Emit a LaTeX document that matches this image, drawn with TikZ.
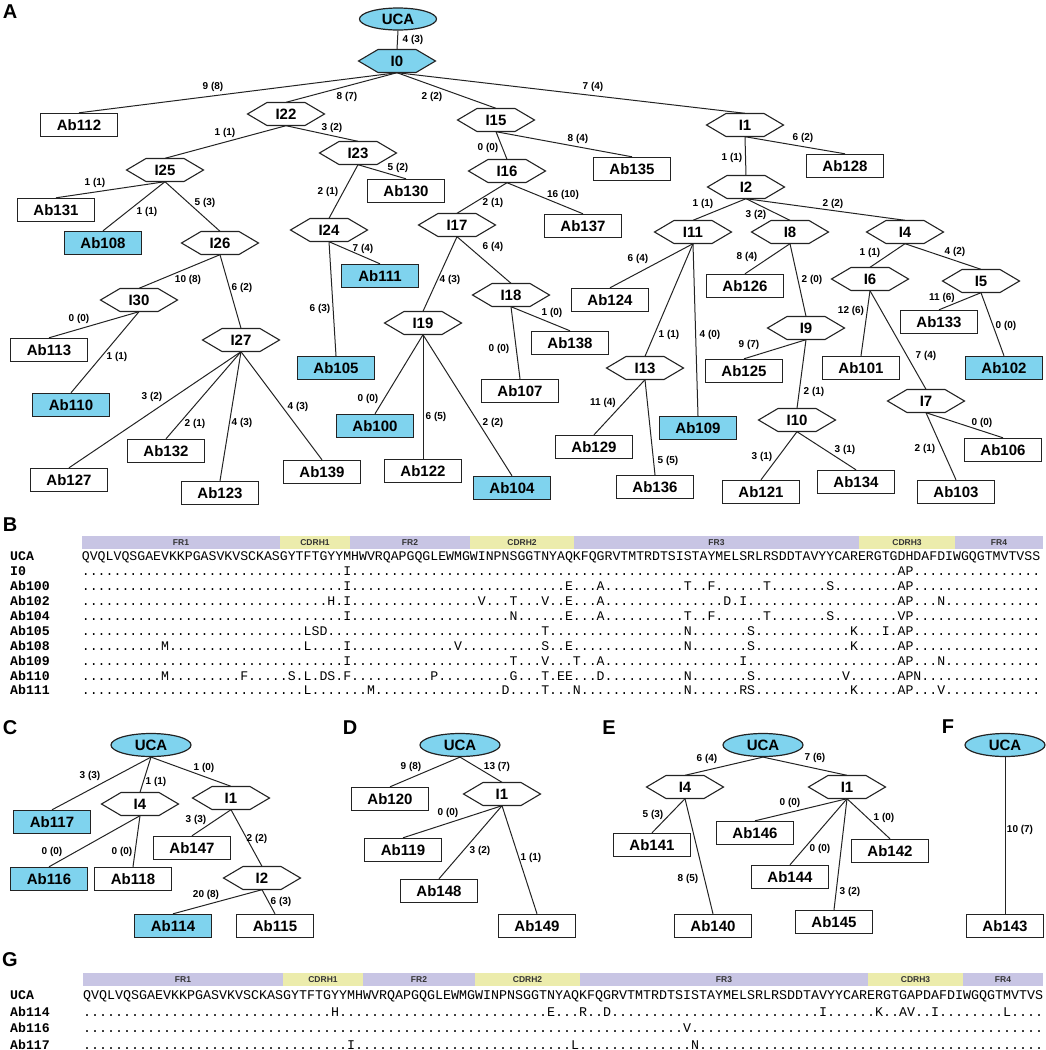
\documentclass[tikz,border=0pt]{standalone}
\usepackage{fontspec}
\setmainfont{Liberation Sans}
\newfontfamily\monof{Liberation Mono}
\usetikzlibrary{shapes.geometric}
\definecolor{nodeblue}{RGB}{127,211,238}
\definecolor{frc}{RGB}{200,197,228}
\definecolor{cdrc}{RGB}{236,236,172}
\definecolor{linec}{RGB}{35,35,35}
\newcommand\nodefnt{\fontsize{15}{15}\selectfont\bfseries}
\newcommand\edgefnt{\fontsize{10}{10}\selectfont\bfseries}
\newcommand\panelfnt{\fontsize{20}{20}\selectfont\bfseries}
\newcommand\barfnt{\fontsize{8.5}{8.5}\selectfont\bfseries}
\newcommand\seqBfnt{\monof\fontsize{13.2}{13.2}\selectfont}
\newcommand\seqGfnt{\monof\fontsize{13.333}{13.333}\selectfont}
\newcommand\rowfnt{\monof\fontsize{13.2}{13.2}\selectfont\bfseries}
% build an alignment row: #1 macro, #2 length, #3 list pos/letter
\newcommand\mkrow[3]{%
  \gdef#1{}%
  \foreach \mpos/\mlet in {#3}{\expandafter\xdef\csname mut\mpos\endcsname{\mlet}}%
  \foreach \mi in {1,...,#2}{%
    \ifcsname mut\mi\endcsname
      \xdef#1{#1\csname mut\mi\endcsname}%
    \else
      \xdef#1{#1.}%
    \fi}%
  \foreach \mpos/\mlet in {#3}{\global\expandafter\let\csname mut\mpos\endcsname\undefined}%
}
\mkrow\rIz{121}{34/I,104/A,105/P}
\mkrow\rAa{121}{34/I,62/E,66/A,77/T,80/F,87/T,95/S,104/A,105/P}
\mkrow\rAb{121}{32/H,34/I,51/V,55/T,59/V,62/E,66/A,82/D,84/I,104/A,105/P,109/N}
\mkrow\rAc{121}{34/I,55/N,62/E,66/A,77/T,80/F,87/T,95/S,104/V,105/P}
\mkrow\rAd{121}{29/L,30/S,31/D,59/T,77/N,85/S,98/K,102/I,104/A,105/P}
\mkrow\rAe{121}{11/M,29/L,34/I,48/V,59/S,62/E,77/N,85/S,98/K,104/A,105/P}
\mkrow\rAf{121}{34/I,55/T,59/V,63/T,66/A,84/I,104/A,105/P,109/N}
\mkrow\rAg{121}{11/M,21/F,27/S,29/L,31/D,32/S,34/F,45/P,55/G,59/T,61/E,62/E,66/D,77/N,85/S,97/V,104/A,105/P,106/N}
\mkrow\rAh{121}{29/L,37/M,54/D,59/T,63/N,77/N,84/R,85/S,98/K,104/A,105/P,109/V}
\mkrow\gAa{120}{32/H,59/E,63/R,66/D,93/I,100/K,103/A,104/V,107/I,116/L}
\mkrow\gAb{120}{76/V}
\mkrow\gAc{120}{34/I,62/L,77/N}
\tikzset{
 abox/.style={draw=linec, line width=1.4pt, fill=white, minimum width=77pt, minimum height=23pt, inner sep=0pt, font=\nodefnt},
 bbox/.style={abox, fill=nodeblue},
 ucan/.style={ellipse, draw=linec, line width=1.2pt, fill=nodeblue, minimum width=77pt, minimum height=22pt, inner sep=0pt, font=\nodefnt},
 ucanb/.style={ucan, minimum width=80pt, minimum height=23pt},
 hexlbl/.style={minimum width=77pt, minimum height=23pt, inner sep=0pt, font=\nodefnt},
 hexline/.style={draw=linec, line width=1.1pt},
 edgeline/.style={draw=linec, line width=1pt},
 elab/.style={font=\edgefnt, inner sep=0pt},
 panel/.style={font=\panelfnt, inner sep=0pt},
 barn/.style={minimum height=13pt, inner sep=0pt, font=\barfnt, text=black!80},
 seqB/.style={font=\seqBfnt, inner sep=0pt, anchor=base west},
 seqG/.style={font=\seqGfnt, inner sep=0pt, anchor=base west},
 rowlab/.style={font=\rowfnt, inner sep=0pt, anchor=base west},
}
\newcommand\hexnode[5][white]{%
  \filldraw[hexline, fill=#1] ({#3-38.5},#4) -- ({#3-19},{#4-11.5}) -- ({#3+19},{#4-11.5}) -- ({#3+38.5},#4) -- ({#3+19},{#4+11.5}) -- ({#3-19},{#4+11.5}) -- cycle;
  \node[hexlbl] (#2) at (#3,#4) {#5};}
\newcommand\edge[5]{\draw[edgeline] (#1.south) -- (#2.north); \node[elab] (l#1#2) at (#3,#4) {#5};}
\newcommand\segbar[6]{\node[barn, fill=#5, minimum width=#3pt] (#6) at (#1,#2) {#6};}
\begin{document}
\begin{tikzpicture}[x=1pt,y=-1pt]
\useasboundingbox (0,0) rectangle (1045,1050);
% panel letters
\node[panel] (pA) at (10,12) {A};
\node[panel] (pB) at (10,525) {B};
\node[panel] (pC) at (10,728) {C};
\node[panel] (pD) at (350,728) {D};
\node[panel] (pE) at (609,728) {E};
\node[panel] (pF) at (948,727) {F};
\node[panel] (pG) at (10,960) {G};
% ---------- panel A ----------
\node[ucan] (aUCA) at (398,19) {UCA};
\hexnode[nodeblue]{aI0}{397}{61}{I0}
\node[abox] (Ab112) at (79,125) {Ab112};
\hexnode{aI22}{286}{114}{I22}
\hexnode{aI15}{496}{120}{I15}
\hexnode{aI1}{745}{125}{I1}
\hexnode{aI25}{165}{170}{I25}
\hexnode{aI23}{358}{153}{I23}
\hexnode{aI16}{507}{171}{I16}
\node[abox] (Ab135) at (632,169) {Ab135};
\node[abox] (Ab128) at (845,166) {Ab128};
\hexnode{aI2}{746}{187}{I2}
\node[abox] (Ab130) at (406,191) {Ab130};
\node[abox] (Ab131) at (56,210) {Ab131};
\node[bbox] (Ab108) at (103,243) {Ab108};
\hexnode{aI26}{220}{243}{I26}
\hexnode{aI24}{329}{230}{I24}
\hexnode{aI17}{457}{225}{I17}
\node[abox] (Ab137) at (583,226) {Ab137};
\hexnode{aI11}{693}{232}{I11}
\hexnode{aI8}{790}{232}{I8}
\hexnode{aI4}{905}{232}{I4}
\node[bbox] (Ab111) at (380,276) {Ab111};
\hexnode{aI30}{139}{300}{I30}
\hexnode{aI18}{511}{295}{I18}
\hexnode{aI19}{423}{323}{I19}
\hexnode{aI27}{241}{340}{I27}
\node[abox] (Ab124) at (610,300) {Ab124};
\node[abox] (Ab126) at (745,286) {Ab126};
\hexnode{aI6}{870}{279}{I6}
\hexnode{aI5}{981}{281}{I5}
\node[abox] (Ab113) at (49,350) {Ab113};
\node[bbox] (Ab105) at (336,368) {Ab105};
\node[abox] (Ab138) at (570,343) {Ab138};
\node[abox] (Ab107) at (520,391) {Ab107};
\hexnode{aI9}{806}{328}{I9}
\node[abox] (Ab133) at (939,322) {Ab133};
\hexnode{aI13}{645}{368}{I13}
\node[abox] (Ab125) at (744,371) {Ab125};
\node[abox] (Ab101) at (861,368) {Ab101};
\node[bbox] (Ab102) at (1004,368) {Ab102};
\node[bbox] (Ab110) at (71,405) {Ab110};
\node[bbox] (Ab100) at (375,426) {Ab100};
\hexnode{aI7}{926}{401}{I7}
\node[bbox] (Ab109) at (698,428) {Ab109};
\hexnode{aI10}{797}{420}{I10}
\node[abox] (Ab106) at (1003,450) {Ab106};
\node[abox] (Ab129) at (594,447) {Ab129};
\node[abox] (Ab132) at (166,451) {Ab132};
\node[abox] (Ab139) at (322,472) {Ab139};
\node[abox] (Ab122) at (423,471) {Ab122};
\node[abox] (Ab127) at (69,480) {Ab127};
\node[abox] (Ab123) at (220,493) {Ab123};
\node[bbox] (Ab104) at (512,488) {Ab104};
\node[abox] (Ab134) at (856,482) {Ab134};
\node[abox] (Ab136) at (655,487) {Ab136};
\node[abox] (Ab121) at (761,492) {Ab121};
\node[abox] (Ab103) at (956,492) {Ab103};
\edge{aUCA}{aI0}{413}{40}{4 (3)}
\edge{aI0}{Ab112}{213}{87}{9 (8)}
\edge{aI0}{aI22}{347}{97}{8 (7)}
\edge{aI0}{aI15}{432}{97}{2 (2)}
\edge{aI0}{aI1}{593}{87}{7 (4)}
\edge{aI22}{aI25}{225}{133}{1 (1)}
\edge{aI22}{aI23}{332}{128}{3 (2)}
\edge{aI15}{aI16}{488}{148}{0 (0)}
\edge{aI15}{Ab135}{578}{139}{8 (4)}
\edge{aI1}{Ab128}{803}{138}{6 (2)}
\edge{aI1}{aI2}{732}{158}{1 (1)}
\edge{aI23}{Ab130}{398}{168}{5 (2)}
\edge{aI25}{Ab131}{95}{183}{1 (1)}
\edge{aI23}{aI24}{328}{192}{2 (1)}
\edge{aI16}{Ab137}{563}{195}{16 (10)}
\edge{aI16}{aI17}{493}{203}{2 (1)}
\edge{aI25}{aI26}{205}{203}{5 (3)}
\edge{aI2}{aI11}{703}{204}{1 (1)}
\edge{aI2}{aI4}{833}{204}{2 (2)}
\edge{aI25}{Ab108}{147}{212}{1 (1)}
\edge{aI2}{aI8}{756}{215}{3 (2)}
\edge{aI17}{aI18}{493}{247}{6 (4)}
\edge{aI24}{Ab111}{363}{249}{7 (4)}
\edge{aI4}{aI6}{870}{253}{1 (1)}
\edge{aI4}{aI5}{955}{252}{4 (2)}
\edge{aI8}{Ab126}{747}{257}{8 (4)}
\edge{aI11}{Ab124}{638}{259}{6 (4)}
\edge{aI26}{aI30}{188}{280}{10 (8)}
\edge{aI17}{aI19}{450}{280}{4 (3)}
\edge{aI8}{aI9}{812}{280}{2 (0)}
\edge{aI26}{aI27}{242}{288}{6 (2)}
\edge{aI5}{Ab133}{942}{298}{11 (6)}
\edge{aI24}{Ab105}{320}{309}{6 (3)}
\edge{aI6}{Ab101}{851}{311}{12 (6)}
\edge{aI18}{Ab138}{552}{313}{1 (0)}
\edge{aI30}{Ab113}{79}{319}{0 (0)}
\edge{aI5}{Ab102}{1006}{326}{0 (0)}
\edge{aI11}{aI13}{669}{335}{1 (1)}
\edge{aI11}{Ab109}{710}{335}{4 (0)}
\edge{aI9}{Ab125}{749}{345}{9 (7)}
\edge{aI18}{Ab107}{499}{349}{0 (0)}
\edge{aI6}{aI7}{926}{356}{7 (4)}
\edge{aI30}{Ab110}{117}{357}{1 (1)}
\edge{aI9}{aI10}{814}{392}{2 (1)}
\edge{aI27}{Ab127}{152}{397}{3 (2)}
\edge{aI19}{Ab100}{368}{399}{0 (0)}
\edge{aI13}{Ab129}{603}{403}{11 (4)}
\edge{aI27}{Ab139}{298}{407}{4 (3)}
\edge{aI7}{Ab106}{982}{423}{0 (0)}
\edge{aI19}{Ab122}{436}{417}{6 (5)}
\edge{aI19}{Ab104}{493}{423}{2 (2)}
\edge{aI27}{Ab132}{195}{424}{2 (1)}
\edge{aI27}{Ab123}{242}{423}{4 (3)}
\edge{aI7}{Ab103}{925}{449}{2 (1)}
\edge{aI10}{Ab134}{845}{450}{3 (1)}
\edge{aI10}{Ab121}{762}{457}{3 (1)}
\edge{aI13}{Ab136}{668}{461}{5 (5)}
% ---------- panel B ----------
\segbar{181}{542.5}{198}{0}{frc}{FR1}
\segbar{315}{542.5}{70}{0}{cdrc}{CDRH1}
\segbar{410}{542.5}{120}{0}{frc}{FR2}
\segbar{522}{542.5}{104}{0}{cdrc}{CDRH2}
\segbar{716.5}{542.5}{285}{0}{frc}{FR3}
\segbar{907}{542.5}{96}{0}{cdrc}{CDRH3}
\segbar{999}{542.5}{88}{0}{frc}{FR4}
\node[rowlab] (blUCA) at (10,560.8) {UCA};
\node[rowlab] (blI0) at (10,575.7) {I0};
\node[rowlab] (blAa) at (10,590.6) {Ab100};
\node[rowlab] (blAb) at (10,605.5) {Ab102};
\node[rowlab] (blAc) at (10,620.4) {Ab104};
\node[rowlab] (blAd) at (10,635.3) {Ab105};
\node[rowlab] (blAe) at (10,650.2) {Ab108};
\node[rowlab] (blAf) at (10,665.1) {Ab109};
\node[rowlab] (blAg) at (10,680.0) {Ab110};
\node[rowlab] (blAh) at (10,694.9) {Ab111};
\node[seqB] (bsUCA) at (81.7,560.8) {QVQLVQSGAEVKKPGASVKVSCKASGYTFTGYYMHWVRQAPGQGLEWMGWINPNSGGTNYAQKFQGRVTMTRDTSISTAYMELSRLRSDDTAVYYCARERGTGDHDAFDIWGQGTMVTVSS};
\node[seqB] (bsI0) at (81.7,575.7) {\rIz};
\node[seqB] (bsAa) at (81.7,590.6) {\rAa};
\node[seqB] (bsAb) at (81.7,605.5) {\rAb};
\node[seqB] (bsAc) at (81.7,620.4) {\rAc};
\node[seqB] (bsAd) at (81.7,635.3) {\rAd};
\node[seqB] (bsAe) at (81.7,650.2) {\rAe};
\node[seqB] (bsAf) at (81.7,665.1) {\rAf};
\node[seqB] (bsAg) at (81.7,680.0) {\rAg};
\node[seqB] (bsAh) at (81.7,694.9) {\rAh};
% ---------- panel C ----------
\node[ucanb] (cUCA) at (151,745) {UCA};
\hexnode{cI4}{140}{804}{I4}
\hexnode{cI1}{231}{798}{I1}
\node[bbox] (Ab117) at (52,822) {Ab117};
\node[abox] (Ab147) at (192,848) {Ab147};
\node[bbox] (Ab116) at (49,879) {Ab116};
\node[abox] (Ab118) at (133,879) {Ab118};
\hexnode{cI2}{262}{878}{I2}
\node[bbox] (Ab114) at (173,926) {Ab114};
\node[abox] (Ab115) at (275,926) {Ab115};
\edge{cUCA}{Ab117}{90}{776}{3 (3)}
\edge{cUCA}{cI4}{156}{782}{1 (1)}
\edge{cUCA}{cI1}{204}{768}{1 (0)}
\edge{cI1}{Ab147}{196}{820}{3 (3)}
\edge{cI1}{cI2}{257}{839}{2 (2)}
\edge{cI4}{Ab116}{52}{852}{0 (0)}
\edge{cI4}{Ab118}{122}{852}{0 (0)}
\edge{cI2}{Ab114}{206}{895}{20 (8)}
\edge{cI2}{Ab115}{281}{902}{6 (3)}
% ---------- panel D ----------
\node[ucanb] (dUCA) at (460,745) {UCA};
\node[abox] (Ab120) at (390,799) {Ab120};
\hexnode{dI1}{502}{794}{I1}
\node[abox] (Ab119) at (403,850) {Ab119};
\node[abox] (Ab148) at (439,891) {Ab148};
\node[abox] (Ab149) at (537,926) {Ab149};
\edge{dUCA}{Ab120}{411}{767}{9 (8)}
\edge{dUCA}{dI1}{497}{767}{13 (7)}
\edge{dI1}{Ab119}{448}{813}{0 (0)}
\edge{dI1}{Ab148}{480}{851}{3 (2)}
\edge{dI1}{Ab149}{531}{858}{1 (1)}
% ---------- panel E ----------
\node[ucanb] (eUCA) at (763,745) {UCA};
\hexnode{eI4}{685}{787}{I4}
\hexnode{eI1}{847}{787}{I1}
\node[abox] (Ab141) at (652,845) {Ab141};
\node[abox] (Ab140) at (713,926) {Ab140};
\node[abox] (Ab146) at (755,833) {Ab146};
\node[abox] (Ab142) at (890,851) {Ab142};
\node[abox] (Ab144) at (790,877) {Ab144};
\node[abox] (Ab145) at (834,922) {Ab145};
\edge{eUCA}{eI4}{707}{759}{6 (4)}
\edge{eUCA}{eI1}{815}{758}{7 (6)}
\edge{eI4}{Ab141}{653}{815}{5 (3)}
\edge{eI4}{Ab140}{688}{879}{8 (5)}
\edge{eI1}{Ab146}{790}{803}{0 (0)}
\edge{eI1}{Ab142}{884}{818}{1 (0)}
\edge{eI1}{Ab144}{820}{849}{0 (0)}
\edge{eI1}{Ab145}{850}{892}{3 (2)}
% ---------- panel F ----------
\node[ucanb] (fUCA) at (1005,745) {UCA};
\node[abox] (Ab143) at (1005,926) {Ab143};
\edge{fUCA}{Ab143}{1020}{830}{10 (7)}
% ---------- panel G ----------
\segbar{183}{979.5}{200}{0}{frc}{FR1}
\segbar{323}{979.5}{80}{0}{cdrc}{CDRH1}
\segbar{419}{979.5}{112}{0}{frc}{FR2}
\segbar{527.5}{979.5}{105}{0}{cdrc}{CDRH2}
\segbar{724}{979.5}{288}{0}{frc}{FR3}
\segbar{915.5}{979.5}{95}{0}{cdrc}{CDRH3}
\segbar{1003}{979.5}{80}{0}{frc}{FR4}
\node[rowlab] (glUCA) at (10,999.8) {UCA};
\node[rowlab] (glAa) at (10,1016.3) {Ab114};
\node[rowlab] (glAb) at (10,1032.8) {Ab116};
\node[rowlab] (glAc) at (10,1049.2) {Ab117};
\node[seqG] (gsUCA) at (83,999.8) {QVQLVQSGAEVKKPGASVKVSCKASGYTFTGYYMHWVRQAPGQGLEWMGWINPNSGGTNYAQKFQGRVTMTRDTSISTAYMELSRLRSDDTAVYYCARERGTGAPDAFDIWGQGTMVTVS};
\node[seqG] (gsAa) at (83,1016.3) {\gAa};
\node[seqG] (gsAb) at (83,1032.8) {\gAb};
\node[seqG] (gsAc) at (83,1049.2) {\gAc};
\end{tikzpicture}
\end{document}
